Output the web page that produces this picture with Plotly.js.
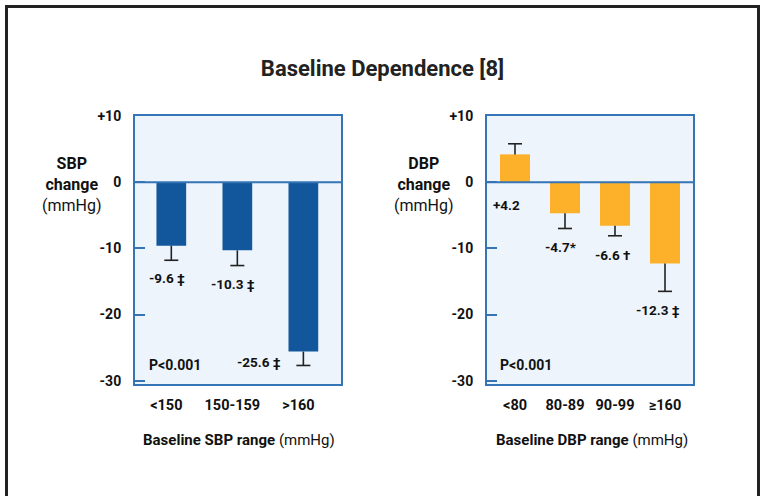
<!DOCTYPE html>
<html>
<head>
<meta charset="utf-8">
<script src="https://cdn.plot.ly/plotly-3.0.1.min.js"></script>
<style>
  html, body { margin: 0; padding: 0; background: #ffffff; }
  #chart { width: 765px; height: 496px; }
</style>
</head>
<body>
<div id="chart"></div>
<script>
// ---- Data ----
const sbpCats = ['<150', '150-159', '>160'];
const sbpVals = [-9.6, -10.3, -25.6];
const sbpErrPlus = [0, 0, 0];
const sbpErrMinus = [2.2, 2.3, 2.1];
const sbpLabels = ['-9.6 ‡', '-10.3 ‡', '-25.6 ‡'];

const dbpCats = ['<80', '80-89', '90-99', '≥160'];
const dbpVals = [4.2, -4.7, -6.6, -12.3];
const dbpErrPlus = [1.6, 0, 0, 0];
const dbpErrMinus = [0, 2.3, 1.5, 4.2];
const dbpLabels = ['+4.2', '-4.7*', '-6.6 †', '-12.3 ‡'];

const yTickVals = [10, 0, -10, -20, -30];
const yTickText = ['+10', '0', '-10', '-20', '-30'];
const pValueText = 'P<0.001';

// ---- Styles ----
const W = 765, H = 496;
const FONT = 'Roboto, "Liberation Sans", Arial, sans-serif';
const TXT = '#111111';
const BLUE_LINE = '#3574B5';
const BOX_BG = '#EDF4FC';
const SBP_COLOR = '#12569B';
const DBP_COLOR = '#FDB12A';
const ERR_COLOR = '#222222';
const px = v => v / W;
const py = v => 1 - v / H;

// label placement (pixel nudges) per bar
const sbpLabelStyle = [
  {xanchor: 'center', yanchor: 'top', dx: -4, dy: -8},
  {xanchor: 'center', yanchor: 'top', dx: -4, dy: -8},
  {xanchor: 'right', yanchor: 'middle', dx: -20, dy: 3}
];
const dbpLabelStyle = [
  {xanchor: 'center', yanchor: 'top', dx: -9, dy: -13, atZero: true},
  {xanchor: 'center', yanchor: 'top', dx: -4, dy: -9},
  {xanchor: 'center', yanchor: 'top', dx: -3, dy: -9},
  {xanchor: 'center', yanchor: 'top', dx: -7, dy: -9}
];

// cap ends of the one-sided error bars (derived from the data)
const capEnd = (vals, plus, minus) => vals.map((v, i) => v + plus[i] - minus[i]);

const traces = [
  {
    type: 'bar', x: sbpCats, y: sbpVals, xaxis: 'x', yaxis: 'y',
    width: 0.45,
    marker: {color: SBP_COLOR, line: {width: 0}},
    error_y: {type: 'data', symmetric: false, array: sbpErrPlus, arrayminus: sbpErrMinus,
              color: ERR_COLOR, thickness: 1.6, width: 0},
    hoverinfo: 'skip', showlegend: false
  },
  {
    type: 'scatter', mode: 'markers', x: sbpCats, y: capEnd(sbpVals, sbpErrPlus, sbpErrMinus),
    xaxis: 'x', yaxis: 'y',
    marker: {symbol: 'line-ew', size: 10, color: ERR_COLOR, line: {color: ERR_COLOR, width: 1.6}},
    hoverinfo: 'skip', showlegend: false, cliponaxis: false
  },
  {
    type: 'bar', x: dbpCats, y: dbpVals, xaxis: 'x2', yaxis: 'y2',
    width: 0.6,
    marker: {color: DBP_COLOR, line: {width: 0}},
    error_y: {type: 'data', symmetric: false, array: dbpErrPlus, arrayminus: dbpErrMinus,
              color: ERR_COLOR, thickness: 1.6, width: 0},
    hoverinfo: 'skip', showlegend: false
  },
  {
    type: 'scatter', mode: 'markers', x: dbpCats, y: capEnd(dbpVals, dbpErrPlus, dbpErrMinus),
    xaxis: 'x2', yaxis: 'y2',
    marker: {symbol: 'line-ew', size: 10, color: ERR_COLOR, line: {color: ERR_COLOR, width: 1.6}},
    hoverinfo: 'skip', showlegend: false, cliponaxis: false
  }
];

const yAxisCommon = {
  range: [-30.5, 10],
  tickvals: yTickVals, ticktext: yTickText,
  ticks: 'inside', ticklen: 10, tickwidth: 2, tickcolor: BLUE_LINE,
  showgrid: false, zeroline: false,
  showline: true, linecolor: BLUE_LINE, linewidth: 2, mirror: true,
  tickfont: {family: FONT, size: 14, color: TXT, weight: 'bold'},
  ticklabelstandoff: 9,
  fixedrange: true
};
const xAxisCommon = {
  type: 'category',
  ticks: '', showgrid: false, zeroline: false,
  showline: true, linecolor: BLUE_LINE, linewidth: 2, mirror: true,
  tickfont: {family: FONT, size: 14.5, color: TXT, weight: 'bold'},
  ticklabelstandoff: 7,
  fixedrange: true
};

const annotations = [];
sbpCats.forEach((c, i) => {
  const s = sbpLabelStyle[i];
  annotations.push({
    xref: 'x', yref: 'y', x: c, y: sbpVals[i] - sbpErrMinus[i],
    text: '<b>' + sbpLabels[i] + '</b>', showarrow: false,
    xanchor: s.xanchor, yanchor: s.yanchor, xshift: s.dx, yshift: s.dy,
    font: {family: FONT, size: 13.5, color: TXT}
  });
});
dbpCats.forEach((c, i) => {
  const s = dbpLabelStyle[i];
  annotations.push({
    xref: 'x2', yref: 'y2', x: c, y: s.atZero ? 0 : dbpVals[i] - dbpErrMinus[i],
    text: '<b>' + dbpLabels[i] + '</b>', showarrow: false,
    xanchor: s.xanchor, yanchor: s.yanchor, xshift: s.dx, yshift: s.dy,
    font: {family: FONT, size: 13.5, color: TXT}
  });
});
// y titles
annotations.push({
  xref: 'paper', yref: 'paper', x: px(72), y: py(184), xanchor: 'center', yanchor: 'middle',
  text: '<b>SBP</b><br><b>change</b><br>(mmHg)', showarrow: false,
  font: {family: FONT, size: 16, color: TXT}
});
annotations.push({
  xref: 'paper', yref: 'paper', x: px(424), y: py(184), xanchor: 'center', yanchor: 'middle',
  text: '<b>DBP</b><br><b>change</b><br>(mmHg)', showarrow: false,
  font: {family: FONT, size: 16, color: TXT}
});
// x titles
annotations.push({
  xref: 'paper', yref: 'paper', x: px(239), y: py(440), xanchor: 'center', yanchor: 'middle',
  text: '<b>Baseline SBP range</b> (mmHg)', showarrow: false,
  font: {family: FONT, size: 15, color: TXT}
});
annotations.push({
  xref: 'paper', yref: 'paper', x: px(592), y: py(440), xanchor: 'center', yanchor: 'middle',
  text: '<b>Baseline DBP range</b> (mmHg)', showarrow: false,
  font: {family: FONT, size: 15, color: TXT}
});
// p values
annotations.push({
  xref: 'paper', yref: 'paper', x: px(147), y: py(365), xanchor: 'left', yanchor: 'middle',
  text: '<b>' + pValueText + '</b>', showarrow: false,
  font: {family: FONT, size: 14, color: TXT}
});
annotations.push({
  xref: 'paper', yref: 'paper', x: px(498), y: py(365), xanchor: 'left', yanchor: 'middle',
  text: '<b>' + pValueText + '</b>', showarrow: false,
  font: {family: FONT, size: 14, color: TXT}
});

const shapes = [
  // outer frame
  {type: 'rect', xref: 'paper', yref: 'paper', x0: px(6.5), x1: px(758.5), y0: -0.1, y1: py(6.5),
   line: {color: '#222222', width: 3}, fillcolor: 'rgba(0,0,0,0)', layer: 'below'},
  // zero lines above bars
  {type: 'line', xref: 'x domain', yref: 'y', x0: 0, x1: 1, y0: 0, y1: 0,
   line: {color: BLUE_LINE, width: 2}, layer: 'above'},
  {type: 'line', xref: 'x2 domain', yref: 'y2', x0: 0, x1: 1, y0: 0, y1: 0,
   line: {color: BLUE_LINE, width: 2}, layer: 'above'}
];

const layout = {
  width: W, height: H,
  margin: {l: 0, r: 0, t: 0, b: 0, pad: 0},
  paper_bgcolor: '#ffffff',
  plot_bgcolor: BOX_BG,
  title: {
    text: '<b>Baseline Dependence [8]</b>',
    x: 0.5, xanchor: 'center', xref: 'paper',
    y: py(68), yanchor: 'middle', yref: 'paper',
    font: {family: FONT, size: 22, color: '#222222'}
  },
  xaxis: Object.assign({}, xAxisCommon, {domain: [px(135), px(341)], range: [-0.55, 2.57], anchor: 'y', ticklabelshift: -5}),
  yaxis: Object.assign({}, yAxisCommon, {domain: [py(384), py(116)], anchor: 'x'}),
  xaxis2: Object.assign({}, xAxisCommon, {domain: [px(487), px(693)], range: [-0.56, 3.56], anchor: 'y2'}),
  yaxis2: Object.assign({}, yAxisCommon, {domain: [py(384), py(116)], anchor: 'x2'}),
  annotations: annotations,
  shapes: shapes,
  showlegend: false
};

Plotly.newPlot('chart', traces, layout, {staticPlot: true, displayModeBar: false});
</script>
</body>
</html>
